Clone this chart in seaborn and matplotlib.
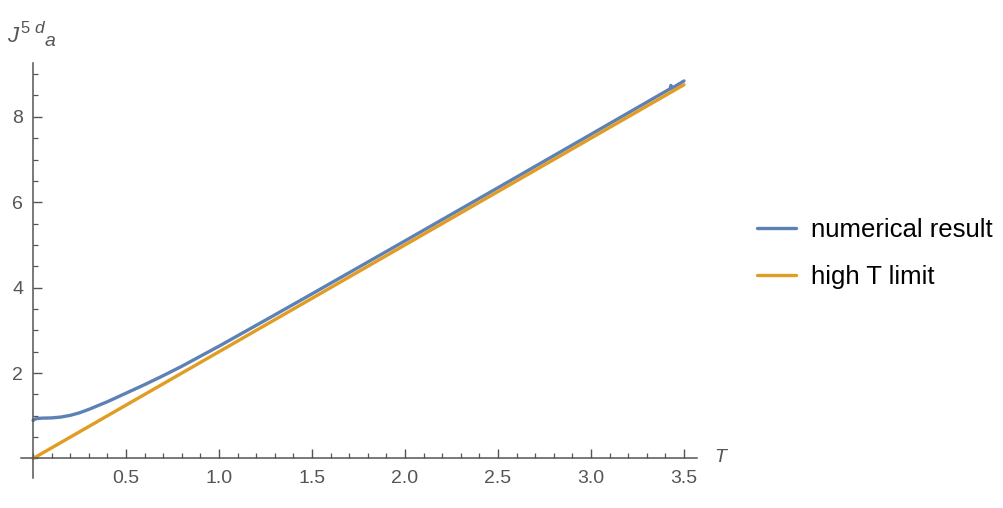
import matplotlib
matplotlib.use('Agg')
import matplotlib.pyplot as plt
import pandas as pd
import seaborn as sns
from matplotlib.ticker import MultipleLocator, FixedLocator, FormatStrFormatter

# numerical result (small glitch near T=3.43 kept)
t_num = [0.0, 0.01, 0.02, 0.05, 0.1, 0.15, 0.2, 0.25, 0.3, 0.35, 0.4, 0.5, 0.6, 0.7,
         0.8, 0.9, 1.0, 1.25, 1.5, 2.0, 2.5, 3.0, 3.425, 3.43, 3.435, 3.5]
j_num = [0.89, 0.92, 0.935, 0.945, 0.95, 0.97, 1.01, 1.07, 1.15, 1.24, 1.33, 1.53, 1.73,
         1.94, 2.16, 2.395, 2.63, 3.24, 3.855, 5.095, 6.34, 7.59, 8.655, 8.735, 8.67, 8.84]

# high T limit (straight line)
t_lim = [0.0, 3.5]
j_lim = [0.0, 8.75]

labels = ['numerical result', 'high T limit']
colors = ['#5E81B5', '#E19C24']
gray = '#555555'

W, H = 1004, 508

df = pd.concat([
    pd.DataFrame({'T': t_num, 'J': j_num, 'series': labels[0]}),
    pd.DataFrame({'T': t_lim, 'J': j_lim, 'series': labels[1]}),
])

sns.set_style('white')
plt.rcParams['font.family'] = ['Liberation Sans', 'DejaVu Sans']

fig = plt.figure(figsize=(W / 100, H / 100), dpi=100)
ax = fig.add_axes([21 / W, 1 - 478 / H, (697 - 21) / W, (478 - 63) / H])

sns.lineplot(data=df, x='T', y='J', hue='series', palette=dict(zip(labels, colors)),
             linewidth=2.4, sort=False, ax=ax, legend=False)

ax.set_xlim(-0.065, 3.57)
ax.set_ylim(-0.457, 9.26)

for side in ['top', 'right']:
    ax.spines[side].set_visible(False)
for side in ['left', 'bottom']:
    ax.spines[side].set_position(('data', 0))
    ax.spines[side].set_color(gray)
    ax.spines[side].set_linewidth(1.1)

ax.xaxis.set_major_locator(FixedLocator([0.5, 1.0, 1.5, 2.0, 2.5, 3.0, 3.5]))
ax.xaxis.set_minor_locator(MultipleLocator(0.1))
ax.yaxis.set_major_locator(FixedLocator([2, 4, 6, 8]))
ax.yaxis.set_minor_locator(MultipleLocator(0.5))
ax.xaxis.set_major_formatter(FormatStrFormatter('%.1f'))

ax.tick_params(which='both', bottom=True, left=True, top=False, right=False)
ax.tick_params(axis='both', which='major', direction='in', length=6.5, width=1,
               color=gray, labelcolor=gray, labelsize=14)
ax.tick_params(axis='both', which='minor', direction='in', length=3.5, width=0.9, color=gray)
ax.tick_params(axis='x', which='major', pad=8)
ax.tick_params(axis='y', which='major', pad=7)
ax.set_xlabel('')
ax.set_ylabel('')

# axis labels placed like the original
fig.text(714 / W, 1 - 458 / H, 'T', style='italic', color=gray, fontsize=14,
         ha='left', va='center')
fig.text(7 / W, 1 - 42 / H, 'J', style='italic', color=gray, fontsize=16, va='baseline')
fig.text(20 / W, 1 - 33 / H, '5', color=gray, fontsize=12, va='baseline')
fig.text(34 / W, 1 - 33 / H, 'd', style='italic', color=gray, fontsize=12.5, va='baseline')
fig.text(45 / W, 1 - 46 / H, 'a', style='italic', color=gray, fontsize=14, va='baseline')

handles = [plt.Line2D([], [], color=c, linewidth=2.4) for c in colors]
leg = fig.legend(handles, labels, loc='center left', bbox_to_anchor=(757 / W, 1 - 253.5 / H),
                 frameon=False, fontsize=18.5, borderpad=0, borderaxespad=0,
                 handlelength=1.5, handletextpad=0.6, labelspacing=0.9)
for txt in leg.get_texts():
    txt.set_color('black')

fig.savefig('out.png', dpi=100)
plt.close(fig)
